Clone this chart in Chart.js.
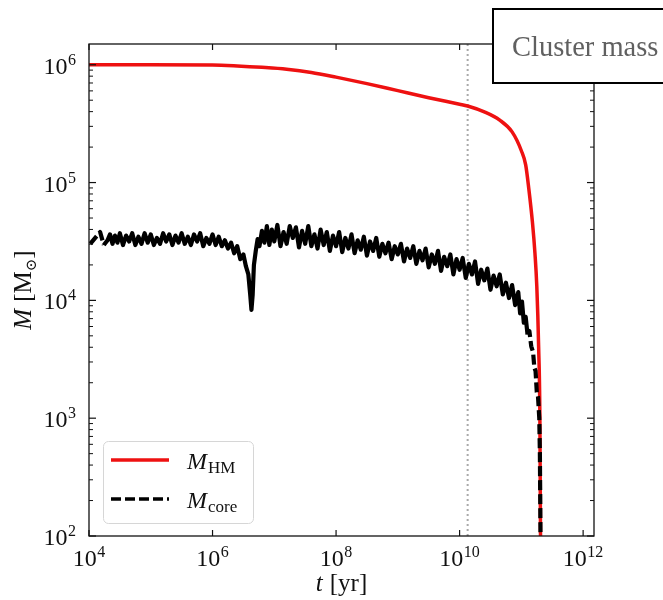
<!DOCTYPE html>
<html>
<head>
<meta charset="utf-8">
<style>
  html, body { margin: 0; padding: 0; background: #fff; }
  canvas { display: block; }
</style>
</head>
<body>
<canvas id="massChart" width="663" height="600"></canvas>
<script src="https://cdn.jsdelivr.net/npm/chart.js@4/dist/chart.umd.min.js"></script>
<script>
// values, stored as log10(t / yr) and log10(M / Msun)
const hmLogT = [4.0, 5.0, 6.0, 6.4, 6.8, 7.2, 7.6, 8.0, 8.5, 9.0, 9.5, 10.0, 10.13, 10.4, 10.65, 10.85,
  11.0, 11.07, 11.12, 11.18, 11.22, 11.25, 11.28, 11.30, 11.31];
const hmLogM = [6.0, 6.0, 5.998, 5.99, 5.978, 5.962, 5.935, 5.895, 5.84, 5.78, 5.72, 5.665, 5.65, 5.60, 5.53, 5.43,
  5.27, 5.15, 4.95, 4.66, 4.40, 4.12, 3.6, 3.0, 2.0];

const coreLogT = [
  4.02, 4.18, 4.24, 4.30, 4.34, 4.38, 4.42, 4.46, 4.50, 4.55,
  4.60, 4.65, 4.70, 4.75, 4.80, 4.85, 4.90, 4.95, 5.00, 5.05,
  5.10, 5.15, 5.20, 5.25, 5.30, 5.35, 5.40, 5.45, 5.50, 5.55,
  5.60, 5.65, 5.70, 5.75, 5.80, 5.85, 5.90, 5.95, 6.00, 6.05,
  6.10, 6.15, 6.20, 6.25, 6.30, 6.35, 6.40, 6.45, 6.50, 6.54,
  6.58, 6.61, 6.63, 6.65, 6.67, 6.70, 6.73, 6.76, 6.80, 6.84,
  6.88, 6.92, 6.96, 7.00, 7.05, 7.10, 7.15, 7.20, 7.25, 7.30,
  7.35, 7.40, 7.45, 7.50, 7.55, 7.60, 7.65, 7.70, 7.75, 7.80,
  7.85, 7.90, 7.95, 8.00, 8.05, 8.10, 8.15, 8.20, 8.25, 8.30,
  8.35, 8.40, 8.45, 8.50, 8.55, 8.60, 8.65, 8.70, 8.75, 8.80,
  8.85, 8.90, 8.95, 9.00, 9.05, 9.10, 9.15, 9.20, 9.25, 9.30,
  9.35, 9.40, 9.45, 9.50, 9.55, 9.60, 9.65, 9.70, 9.75, 9.80,
  9.85, 9.90, 9.95, 10.00, 10.05, 10.10, 10.15, 10.20, 10.25, 10.30,
  10.35, 10.40, 10.45, 10.50, 10.55, 10.60, 10.65, 10.70, 10.75, 10.80,
  10.85, 10.90, 10.95, 10.98, 11.01, 11.04, 11.07, 11.10, 11.13, 11.16,
  11.19, 11.21, 11.23, 11.25, 11.27, 11.29, 11.30, 11.31];
const coreLogM = [
  4.48, 4.58, 4.47, 4.51, 4.56, 4.48, 4.55, 4.49, 4.57, 4.47,
  4.55, 4.50, 4.57, 4.47, 4.54, 4.48, 4.57, 4.49, 4.56, 4.47,
  4.53, 4.48, 4.57, 4.50, 4.56, 4.47, 4.55, 4.49, 4.57, 4.48,
  4.54, 4.47, 4.56, 4.50, 4.57, 4.46, 4.53, 4.48, 4.56, 4.47,
  4.54, 4.46, 4.51, 4.44, 4.49, 4.40, 4.46, 4.35, 4.39, 4.29,
  4.22, 4.05, 3.92, 4.05, 4.30, 4.42, 4.52, 4.46, 4.59, 4.49,
  4.63, 4.47, 4.60, 4.50, 4.64, 4.46, 4.58, 4.48, 4.63, 4.53,
  4.62, 4.45, 4.59, 4.48, 4.63, 4.46, 4.56, 4.44, 4.60, 4.47,
  4.58, 4.42, 4.55, 4.46, 4.58, 4.41, 4.53, 4.44, 4.56, 4.40,
  4.51, 4.43, 4.54, 4.38, 4.50, 4.42, 4.53, 4.37, 4.48, 4.40,
  4.49, 4.35, 4.46, 4.39, 4.48, 4.33, 4.44, 4.36, 4.46, 4.31,
  4.42, 4.34, 4.44, 4.28, 4.39, 4.31, 4.42, 4.25, 4.37, 4.29,
  4.39, 4.22, 4.35, 4.26, 4.36, 4.19, 4.31, 4.22, 4.33, 4.14,
  4.26, 4.17, 4.27, 4.09, 4.21, 4.12, 4.22, 4.05, 4.15, 4.02,
  4.13, 3.96, 4.07, 3.89, 3.99, 3.81, 3.86, 3.71, 3.74, 3.61,
  3.56, 3.43, 3.40, 3.22, 3.18, 3.00, 2.70, 2.00];

const markerT = 1.35e10; // dotted vertical line
const xTicks = [1e4, 1e6, 1e8, 1e10, 1e12];
const xTickExp = ["4", "6", "8", "10", "12"];
const yTicks = [1e2, 1e3, 1e4, 1e5, 1e6];
const yTickExp = ["2", "3", "4", "5", "6"];
const X_MIN = 1e4, X_MAX = 1.5e12, Y_MIN = 1e2, Y_MAX = 1.5e6;
const TITLE = "Cluster mass";
const CORE_DASH = [10, 4];

const SERIF = '"Liberation Serif", "DejaVu Serif", serif';
const f = (size, style = "") => `${style} ${size}px ${SERIF}`;
const toPoints = (lt, lm) => lt.map((t, i) => ({ x: 10 ** t, y: 10 ** lm[i] }));

function line(ctx, x1, y1, x2, y2) {
  ctx.beginPath();
  ctx.moveTo(x1, y1);
  ctx.lineTo(x2, y2);
  ctx.stroke();
}

// draw a run of text pieces with their own font and baseline offset
function rich(ctx, parts, x, y, align) {
  let w = 0;
  parts.forEach((p) => { ctx.font = p.font; p.w = ctx.measureText(p.text).width; w += p.w + (p.gap || 0); });
  let cx = align === "center" ? x - w / 2 : align === "right" ? x - w : x;
  ctx.textAlign = "left";
  ctx.textBaseline = "alphabetic";
  parts.forEach((p) => {
    cx += p.gap || 0;
    ctx.font = p.font;
    ctx.fillText(p.text, cx, y + (p.dy || 0));
    cx += p.w;
  });
}

const pow10 = (exp) => [{ text: "10", font: f(24) }, { text: exp, font: f(16), dy: -9, gap: 0.5 }];

const decor = {
  id: "decor",
  afterDraw(chart) {
    const { ctx, chartArea: a } = chart;
    const xs = chart.scales.x, ys = chart.scales.y;
    ctx.save();
    ctx.strokeStyle = "#111";
    ctx.fillStyle = "#111";
    ctx.lineWidth = 1.2;

    // ticks pointing inward, on all four sides
    xTicks.forEach((v) => {
      const px = xs.getPixelForValue(v);
      line(ctx, px, a.bottom, px, a.bottom - 6);
      line(ctx, px, a.top, px, a.top + 6);
    });
    yTicks.forEach((v) => {
      const py = ys.getPixelForValue(v);
      line(ctx, a.left, py, a.left + 7, py);
      line(ctx, a.right, py, a.right - 7, py);
    });
    ctx.lineWidth = 1;
    for (let d = 2; d <= 6; d++) {
      for (let k = 2; k <= 9; k++) {
        const v = k * 10 ** d;
        if (v >= Y_MAX) continue;
        const py = ys.getPixelForValue(v);
        line(ctx, a.left, py, a.left + 4, py);
        line(ctx, a.right, py, a.right - 4, py);
      }
    }
    ctx.lineWidth = 1.3;
    ctx.strokeRect(a.left, a.top, a.right - a.left, a.bottom - a.top);

    // tick labels
    xTicks.forEach((v, i) => rich(ctx, pow10(xTickExp[i]), xs.getPixelForValue(v), a.bottom + 30, "center"));
    yTicks.forEach((v, i) => rich(ctx, pow10(yTickExp[i]), a.left - 13, ys.getPixelForValue(v) + 9, "right"));

    // axis titles
    rich(ctx, [
      { text: "t", font: f(25, "italic") },
      { text: "[yr]", font: f(25), gap: 7 },
    ], (a.left + a.right) / 2, a.bottom + 55, "center");

    ctx.save();
    ctx.translate(31, (a.top + a.bottom) / 2);
    ctx.rotate(-Math.PI / 2);
    rich(ctx, [
      { text: "M", font: f(25, "italic") },
      { text: "[M", font: f(25), gap: 7 },
      { text: "\u2299", font: f(15), dy: 5 },
      { text: "]", font: f(25) },
    ], 0, 0, "center");
    ctx.restore();

    // legend
    const lx = 103, ly = 441, lw = 150, lh = 82;
    ctx.beginPath();
    ctx.roundRect(lx + 0.5, ly + 0.5, lw, lh, 5);
    ctx.fillStyle = "rgba(255,255,255,0.85)";
    ctx.fill();
    ctx.strokeStyle = "#d6d6d6";
    ctx.lineWidth = 1;
    ctx.stroke();
    const items = [chart.data.datasets[1], chart.data.datasets[0]];
    items.forEach((ds, i) => {
      const yy = ly + 19 + i * 39;
      ctx.save();
      ctx.strokeStyle = ds.borderColor;
      ctx.lineWidth = Math.min(ds.borderWidth, 3.3);
      ctx.setLineDash(ds.borderDash || []);
      line(ctx, lx + 8, yy, lx + 66, yy);
      ctx.restore();
      const [main, sub] = ds.label.split("_");
      ctx.fillStyle = "#111";
      rich(ctx, [
        { text: main, font: f(24, "italic") },
        { text: sub, font: f(17), dy: 4, gap: 1 },
      ], lx + 84, yy + 9, "left");
    });

    // title box, drawn over the frame
    ctx.fillStyle = "#fff";
    ctx.fillRect(493, 9, 190, 74);
    ctx.strokeStyle = "#000";
    ctx.lineWidth = 2;
    ctx.strokeRect(493, 9, 190, 74);
    ctx.fillStyle = "#606060";
    ctx.font = f(28.5);
    ctx.textAlign = "left";
    ctx.fillText(TITLE, 512, 56);
    ctx.restore();
  },
};

new Chart(document.getElementById("massChart"), {
  type: "line",
  data: {
    datasets: [
      {
        label: "M_core",
        data: toPoints(coreLogT, coreLogM),
        borderColor: "#000",
        borderWidth: 4.2,
        borderDash: CORE_DASH,
        borderJoinStyle: "round",
        pointRadius: 0,
        tension: 0,
        order: 0,
        // the noisy stretch reads as a solid band; dashes show only where the curve is sparse
        segment: {
          borderDash: (c) => (coreLogT[c.p0DataIndex] >= 4.2 && coreLogT[c.p1DataIndex] <= 11.1 ? [] : CORE_DASH),
        },
      },
      {
        label: "M_HM",
        data: toPoints(hmLogT, hmLogM),
        borderColor: "#ee1111",
        borderWidth: 3.5,
        cubicInterpolationMode: "monotone",
        pointRadius: 0,
        order: 1,
      },
      {
        label: "marker",
        data: [{ x: markerT, y: Y_MIN }, { x: markerT, y: Y_MAX }],
        borderColor: "#a9a9a9",
        borderWidth: 2,
        borderDash: [2, 3],
        pointRadius: 0,
        order: 2,
      },
    ],
  },
  options: {
    responsive: false,
    animation: false,
    layout: { padding: { left: 89, right: 69, top: 44, bottom: 64 } },
    plugins: { legend: { display: false }, tooltip: { enabled: false } },
    scales: {
      x: { type: "logarithmic", min: X_MIN, max: X_MAX, display: false },
      y: { type: "logarithmic", min: Y_MIN, max: Y_MAX, display: false },
    },
  },
  plugins: [decor],
});
</script>
</body>
</html>
